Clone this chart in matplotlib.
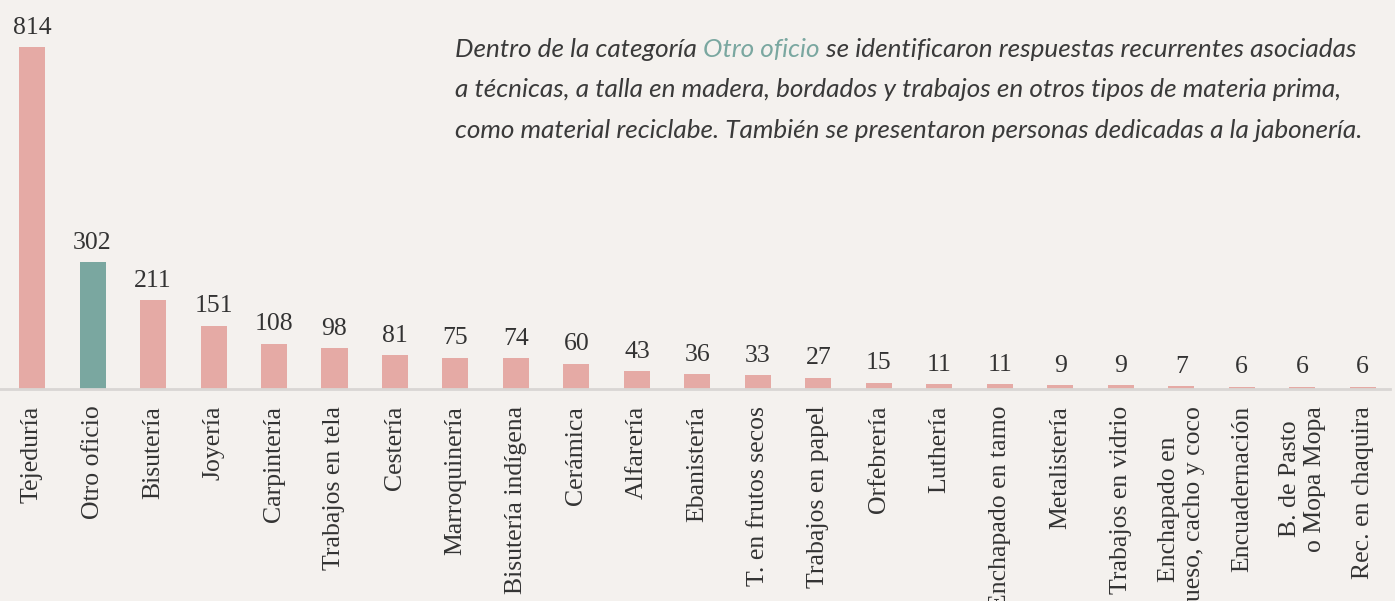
import matplotlib.pyplot as plt

categories = [
    "Tejeduría", "Otro oficio", "Bisutería", "Joyería", "Carpintería",
    "Trabajos en tela", "Cestería", "Marroquinería", "Bisutería indígena",
    "Cerámica", "Alfarería", "Ebanistería", "T. en frutos secos",
    "Trabajos en papel", "Orfebrería", "Luthería", "Enchapado en tamo",
    "Metalistería", "Trabajos en vidrio", "Enchapado en\nhueso, cacho y coco",
    "Encuadernación", "B. de Pasto\no Mopa Mopa", "Rec. en chaquira",
]
values = [814, 302, 211, 151, 108, 98, 81, 75, 74, 60, 43, 36, 33, 27,
          15, 11, 11, 9, 9, 7, 6, 6, 6]
highlight = "Otro oficio"

note_lines = [
    ("Dentro de la categoría ", "Otro oficio", " se identificaron respuestas recurrentes asociadas"),
    "a técnicas, a talla en madera, bordados y trabajos en otros tipos de materia prima,",
    "como material reciclabe. También se presentaron personas dedicadas a la jabonería.",
]

BG = "#f4f1ee"
PINK = "#e5aaa5"
TEAL = "#7aa7a0"
TEXT = "#333333"

fig = plt.figure(figsize=(13.95, 6.01), dpi=100, facecolor=BG)
ax = fig.add_axes([0.0, 0.3527, 1390 / 1395, 0.629])
ax.set_facecolor(BG)

x = list(range(len(categories)))
colors = [TEAL if c == highlight else PINK for c in categories]
ax.bar(x, values, width=0.43, color=colors, zorder=2)

for i, v in enumerate(values):
    ax.annotate(str(v), (i, v), xytext=(0, 6), textcoords="offset points",
                ha="center", va="bottom", fontsize=18.5,
                family="Liberation Serif", color=TEXT)

ax.set_xlim(-0.53, 22.45)
ax.set_ylim(0, 900)
ax.set_xticks(x)
ax.set_xticklabels(categories, rotation=90, family="Liberation Serif",
                   fontsize=18.5, color=TEXT, multialignment="center")
ax.tick_params(axis="x", length=0, pad=12)
ax.set_yticks([])
for side in ["top", "right", "left"]:
    ax.spines[side].set_visible(False)
ax.spines["bottom"].set_color("#d9d6d4")
ax.spines["bottom"].set_linewidth(2)
ax.spines["bottom"].set_zorder(3)

# annotation: fit the font size so the longest line spans the reference width
note_font = dict(family=["Lato", "DejaVu Sans"], style="italic", weight="normal",
                 color="#3a3a3a")
renderer = fig.canvas.get_renderer()
probe = fig.text(0, 0, note_lines[2], fontsize=20, **note_font)
width = probe.get_window_extent(renderer).width
probe.remove()
size = 20 * 907 / width

left = 455 / 1395
baselines = [57, 97, 138]
pre, word, post = note_lines[0]
t1 = fig.text(left, 1 - baselines[0] / 601, pre, ha="left", va="baseline",
              fontsize=size, **note_font)
t2 = ax.annotate(word, xy=(1, 0), xycoords=t1, ha="left", va="bottom",
                 fontsize=size, **{**note_font, "color": TEAL})
ax.annotate(post, xy=(1, 0), xycoords=t2, ha="left", va="bottom",
            fontsize=size, **note_font)
for line, base in zip(note_lines[1:], baselines[1:]):
    fig.text(left, 1 - base / 601, line, ha="left", va="baseline",
             fontsize=size, **note_font)

fig.savefig("out.png", dpi=100, facecolor=BG)
